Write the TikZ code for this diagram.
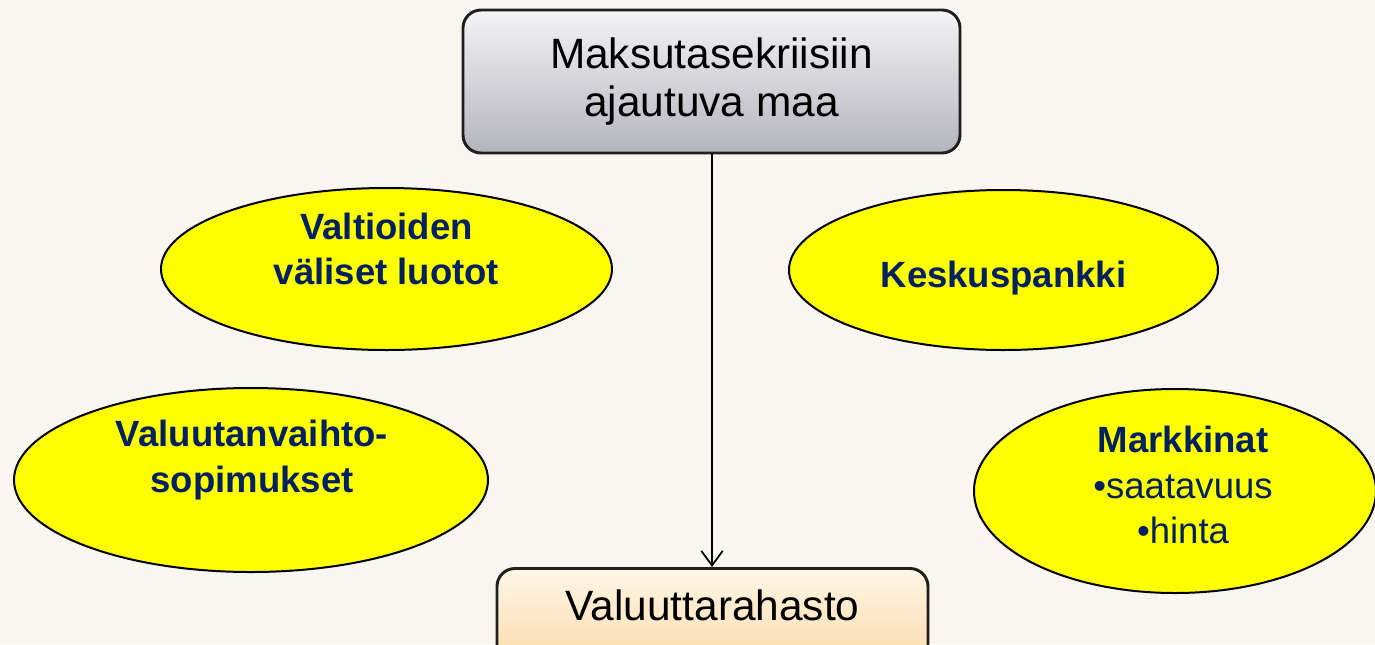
\documentclass[tikz,border=0pt]{standalone}
\usepackage{fontspec}
\setmainfont{Liberation Sans}
\usetikzlibrary{shapes.geometric,arrows.meta}
\definecolor{bgc}{HTML}{F9F5F0}
\definecolor{navy}{HTML}{002060}
\definecolor{yel}{HTML}{FFFF00}
\definecolor{graytop}{HTML}{F4F4F6}
\definecolor{graybot}{HTML}{B4B4BC}
\definecolor{peachtop}{HTML}{FFF6E6}
\definecolor{peachbot}{HTML}{FCD49C}
\tikzset{
  bubble/.style={ellipse, draw=black, line width=1.5pt, fill=yel, inner sep=0pt},
  bubbletext/.style={text=navy, align=center, inner sep=0pt, font=\fontsize{27.4pt}{33.9pt}\selectfont},
  bigbox/.style={draw=black!88, line width=2.2pt, rounded corners=13.5pt, inner sep=0pt, align=center,
     font=\fontsize{31.8pt}{36pt}\selectfont},
  flow/.style={line width=1.3pt, -{Straight Barb[length=11pt,width=16pt,line width=1.3pt]}}
}
\begin{document}
\begin{tikzpicture}[x=0.75pt,y=-0.75pt]
\fill[bgc] (0,0) rectangle (1375,644);
\useasboundingbox (0,0) rectangle (1375,644);
% top box
\node[bigbox, top color=graytop, bottom color=graybot, minimum width=372.75pt, minimum height=107.25pt]
  (top) at (711.5,81.5) {Maksutasekriisiin\\ajautuva maa};
% bottom box
\begin{scope}
\clip (0,0) rectangle (1375,644);
\node[bigbox, top color=peachtop, bottom color=peachbot, minimum width=323.25pt, minimum height=90pt, anchor=north]
  (fund) at (712.5,567) {};
\end{scope}
\node[font=\fontsize{31.8pt}{36pt}\selectfont, inner sep=0pt, anchor=base] (fundtext) at (712.5,620) {Valuuttarahasto};
% arrow
\draw[flow] (top.south -| 712,0) -- (fund.north -| 712,0);
% ellipses
\node[bubble, minimum width=338.25pt, minimum height=121.5pt] (e1) at (386.5,269) {};
\node[bubbletext, font=\bfseries\fontsize{27.4pt}{33.9pt}\selectfont] (t1) at (386.5,249) {Valtioiden\\väliset luotot};
\node[bubble, minimum width=321.75pt, minimum height=120pt] (e2) at (1003.5,270) {};
\node[bubbletext, font=\bfseries\fontsize{27.4pt}{33.9pt}\selectfont, anchor=base] (t2) at (1003.5,287) {Keskuspankki};
\node[bubble, minimum width=355.5pt, minimum height=138pt] (e3) at (251,480) {};
\node[bubbletext, font=\bfseries\fontsize{27.4pt}{33.9pt}\selectfont] (t3) at (252,460) {Valuutanvaihto-\\sopimukset};
\node[bubble, minimum width=301.5pt, minimum height=153pt] (e4) at (1175,491) {};
\node[bubbletext] (t4) at (1183,485) {\textbf{Markkinat}\\•saatavuus\\•hinta};
\end{tikzpicture}
\end{document}
